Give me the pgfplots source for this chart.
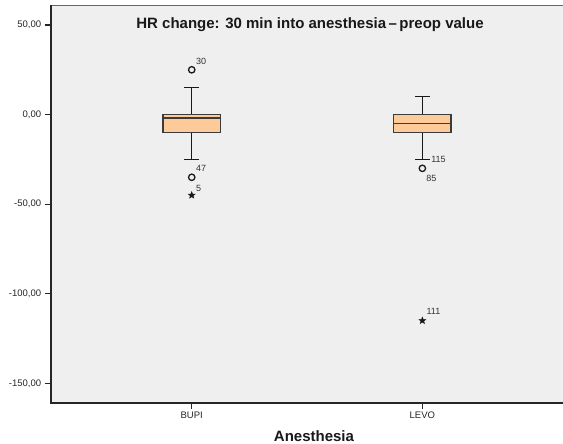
\documentclass[border=0pt]{standalone}
\usepackage{fontspec}
\setmainfont{Liberation Sans}
\usepackage{pgfplots}
\pgfplotsset{compat=1.18}
\usepgfplotslibrary{statistics}

\definecolor{panel}{RGB}{239,239,239}
\definecolor{peach}{RGB}{252,203,153}
\definecolor{edge}{RGB}{60,60,60}

% filled five-pointed star for the extreme values
\pgfdeclareplotmark{fstar}{%
  \pgfpathmoveto{\pgfpointpolar{90}{\pgfplotmarksize}}%
  \pgfpathlineto{\pgfpointpolar{126}{0.42\pgfplotmarksize}}%
  \pgfpathlineto{\pgfpointpolar{162}{\pgfplotmarksize}}%
  \pgfpathlineto{\pgfpointpolar{198}{0.42\pgfplotmarksize}}%
  \pgfpathlineto{\pgfpointpolar{234}{\pgfplotmarksize}}%
  \pgfpathlineto{\pgfpointpolar{270}{0.42\pgfplotmarksize}}%
  \pgfpathlineto{\pgfpointpolar{306}{\pgfplotmarksize}}%
  \pgfpathlineto{\pgfpointpolar{342}{0.42\pgfplotmarksize}}%
  \pgfpathlineto{\pgfpointpolar{18}{\pgfplotmarksize}}%
  \pgfpathlineto{\pgfpointpolar{54}{0.42\pgfplotmarksize}}%
  \pgfpathclose
  \pgfusepathqfillstroke}

\begin{document}
\begin{tikzpicture}
\useasboundingbox (0,0) rectangle (563pt,444pt);
\begin{axis}[
    at={(50.7pt,41.3pt)}, anchor=south west,
    scale only axis,
    width=522.3pt, height=397.4pt,
    xmin=0.3886, xmax=2.653,
    ymin=-160.8, ymax=61.0,
    axis background/.style={fill=panel},
    axis line style={draw=black!60, line width=1.3pt},
    xtick={1,2}, xticklabels={BUPI,LEVO},
    ytick={-150,-100,-50,0,50},
    xtick pos=bottom, ytick pos=left,
    tick align=outside,
    major tick length=6pt,
    tick style={black!85, line width=1.1pt},
    x tick style={line width=0.8pt},
    /pgf/number format/assume math mode=true,
    yticklabel style={font=\fontsize{9.5}{11}\selectfont, text=black!85,
        /pgf/number format/.cd, fixed, fixed zerofill, precision=2, use comma, /tikz/.cd},
    xticklabel style={font=\fontsize{9.5}{11}\selectfont, text=black!85},
    boxplot/draw direction=y,
    boxplot/every box/.style={draw=edge, fill=peach, line width=1.5pt},
    boxplot/every median/.style={draw=edge, line width=1.4pt},
    boxplot/every whisker/.style={draw=black!90, line width=1.4pt},
    clip=false,
]
% BUPI
\addplot+[mark=none, boxplot prepared={
    lower whisker=-25, lower quartile=-10, median=-2,
    upper quartile=0, upper whisker=15,
    draw position=1, box extend=0.25, whisker extend=0.065}]
    coordinates {};
% LEVO
\addplot+[mark=none, boxplot prepared={
    lower whisker=-25, lower quartile=-10, median=-5,
    upper quartile=0, upper whisker=10,
    draw position=2, box extend=0.25, whisker extend=0.065}]
    coordinates {};

% outliers (circles) and extremes (stars)
\addplot[only marks, mark=o, mark size=3.2pt, black!90, line width=1.3pt]
    coordinates {(1,25) (1,-35) (2,-30)};
\addplot[only marks, mark=fstar, mark size=3.6pt, black!90, fill=black!90, line width=0.4pt]
    coordinates {(1,-45) (2,-115)};

% case labels
\begin{scope}[every node/.style={font=\fontsize{9}{10}\selectfont, text=black!80, inner sep=0pt}]
\node[anchor=south west] at ([shift={(4.3pt,5.5pt)}]axis cs:1,25) {30};
\node[anchor=south west] at ([shift={(4.3pt,5.5pt)}]axis cs:1,-35) {47};
\node[anchor=south west] at ([shift={(4.3pt,3.5pt)}]axis cs:1,-45) {5};
\node[anchor=west] at ([shift={(8.8pt,0pt)}]axis cs:2,-25) {115};
\node[anchor=north west] at ([shift={(3.7pt,-6.7pt)}]axis cs:2,-30) {85};
\node[anchor=south west] at ([shift={(4pt,5.7pt)}]axis cs:2,-115) {111};
\end{scope}

% darker left and bottom frame
\draw[black!85, line width=2pt] (rel axis cs:0,1) -- (rel axis cs:0,0) -- (rel axis cs:1,0);

% title inside the panel and axis title below
\node[anchor=base, font=\bfseries\fontsize{15}{17}\selectfont, text=black!90]
    at ([yshift=-23.6pt]rel axis cs:0.4965,1) {HR change: 30 min into anesthesia\,–\,preop value};
\node[anchor=base, font=\bfseries\fontsize{15}{17}\selectfont, text=black!90]
    at ([yshift=-39.3pt]rel axis cs:0.504,0) {Anesthesia};
\end{axis}
\end{tikzpicture}
\end{document}
